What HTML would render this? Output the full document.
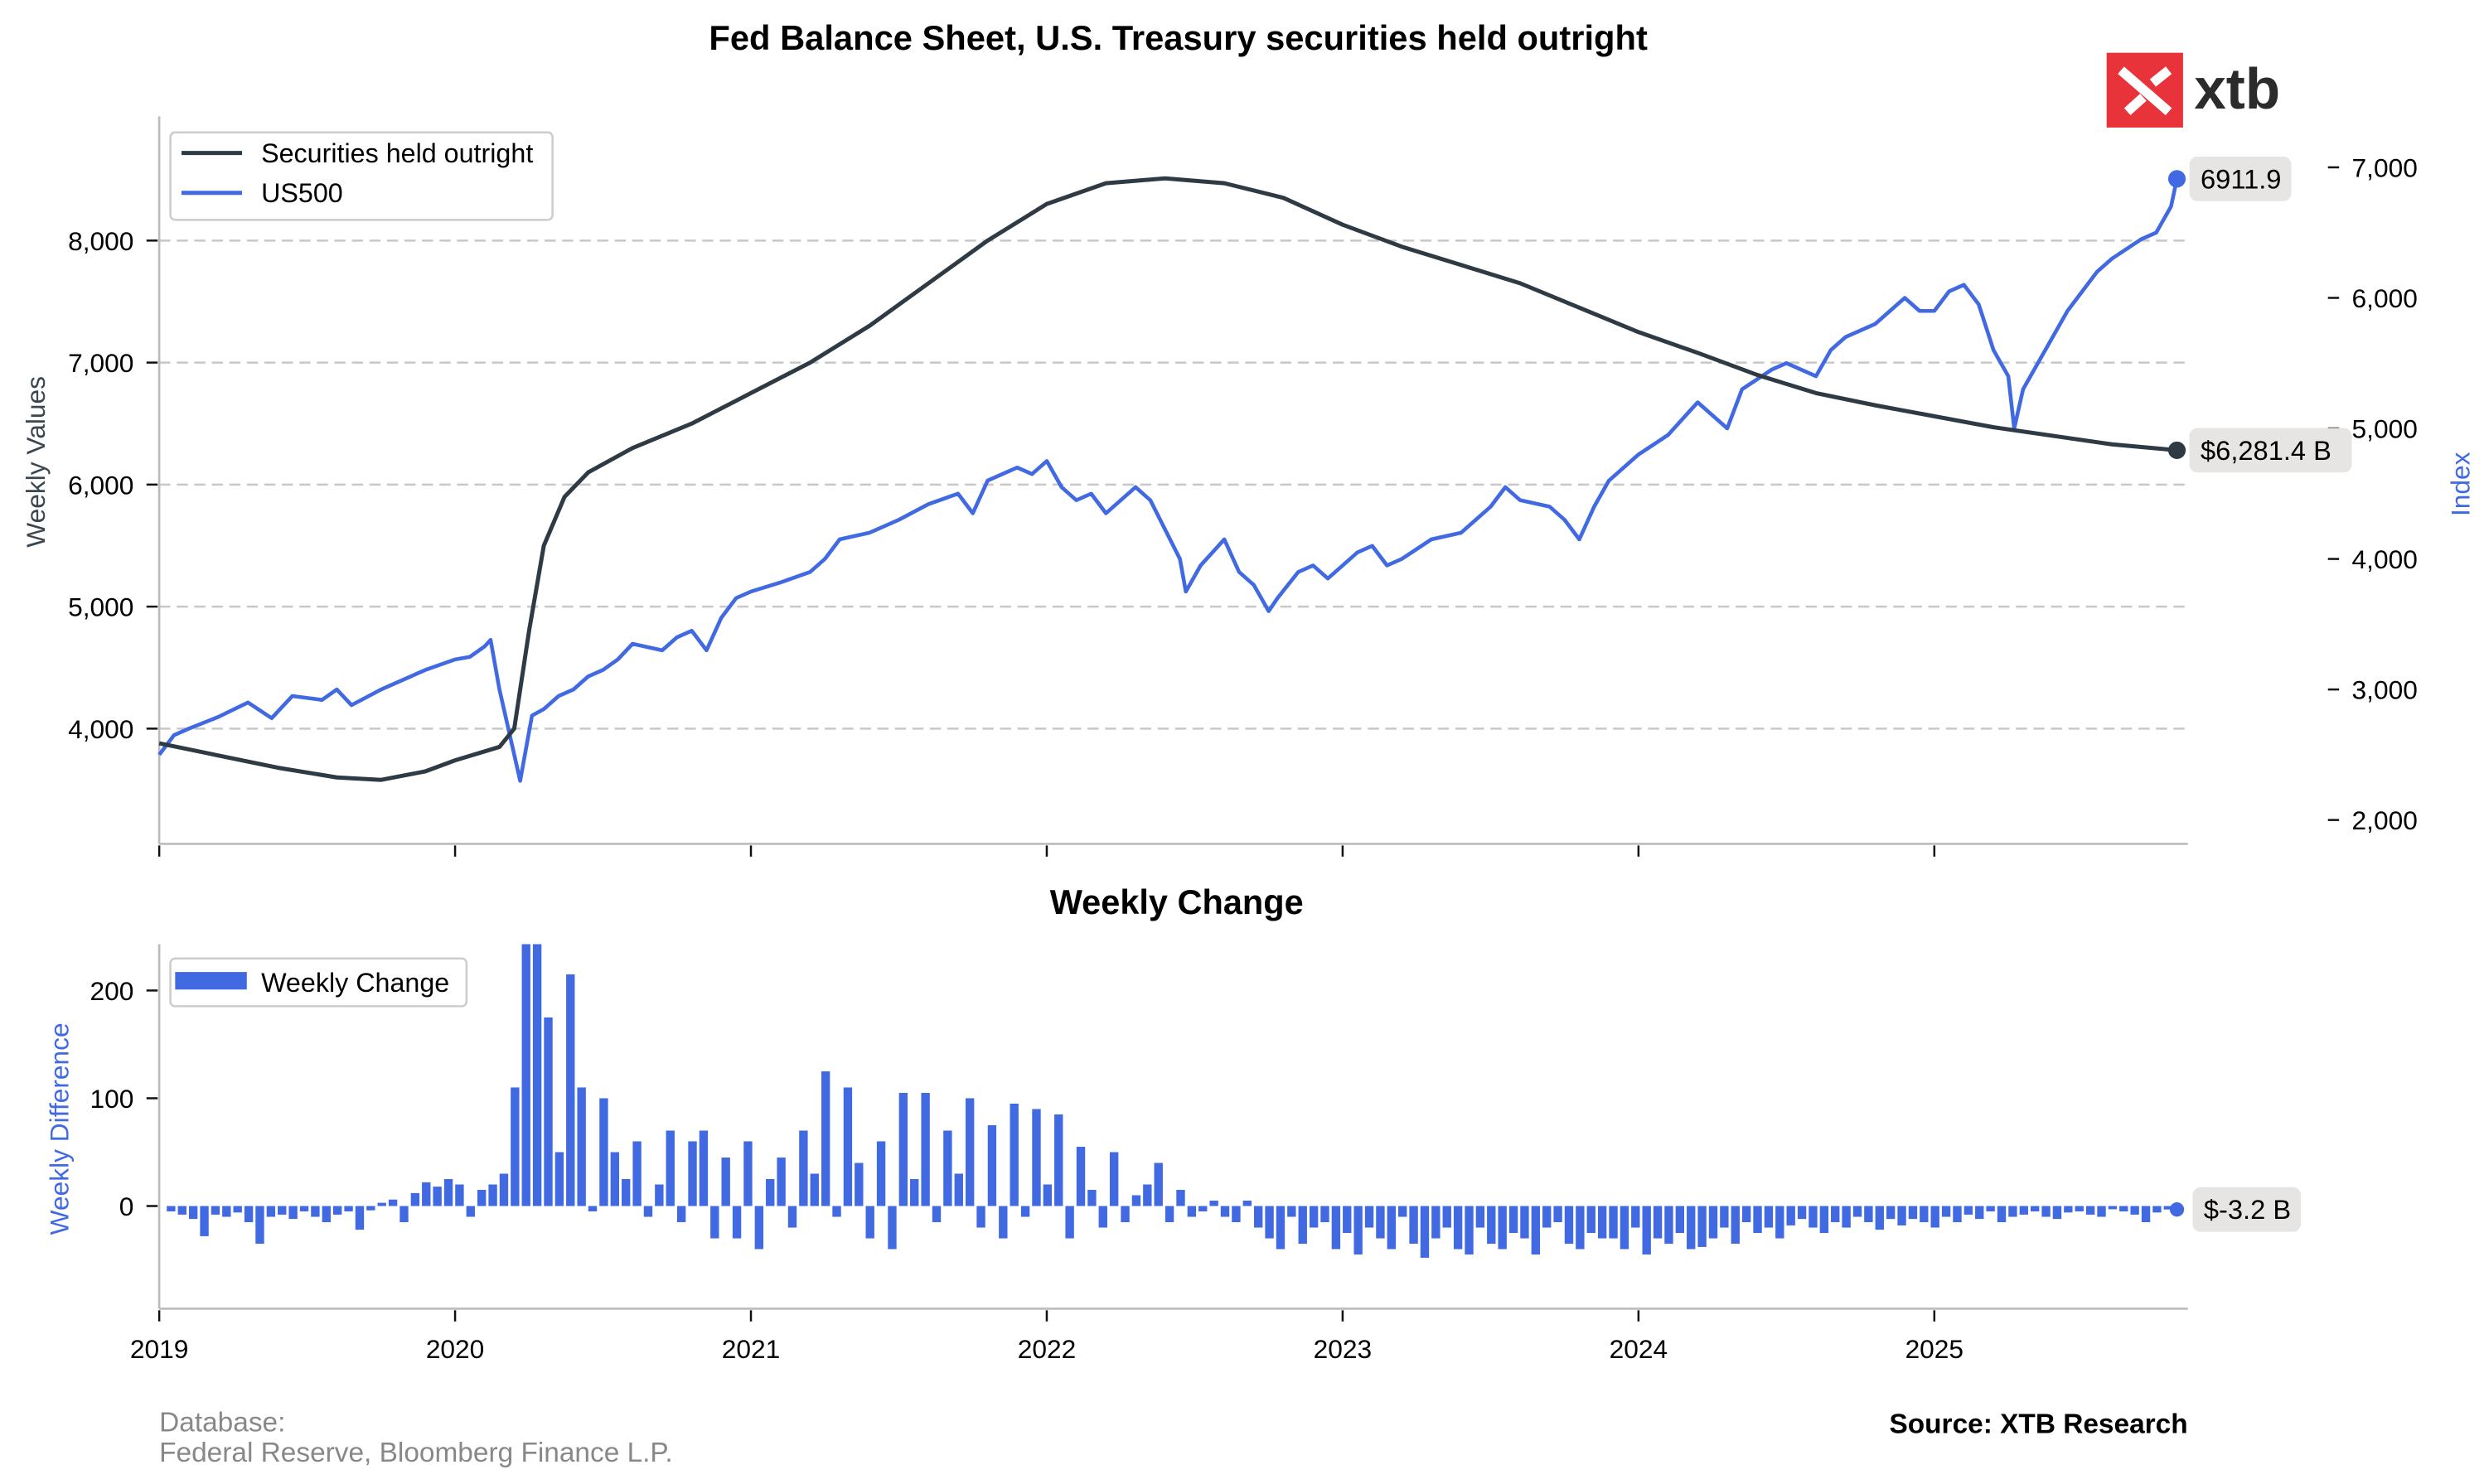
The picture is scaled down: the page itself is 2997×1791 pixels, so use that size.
<!DOCTYPE html>
<html><head><meta charset="utf-8"><style>
html,body{margin:0;padding:0;background:#fff;}
svg{display:block;font-family:"Liberation Sans",Arial,sans-serif;}
</style></head><body>
<svg id="chart" width="2997" height="1791" viewBox="0 0 1560 932" xmlns="http://www.w3.org/2000/svg">
<defs><clipPath id="botclip"><rect x="100" y="593" width="1280" height="229"/></clipPath></defs>
<text x="740" y="31" text-anchor="middle" font-size="21.7" font-weight="bold">Fed Balance Sheet, U.S. Treasury securities held outright</text>
<g>
<rect x="1323" y="33" width="48" height="47" fill="#e8333a"/>
<path d="M1332 44 L1362 70 M1336 70 L1346 61 M1352 52 L1362 44" stroke="#fff" stroke-width="6" fill="none"/>
<text x="1378" y="68" font-size="36" font-weight="bold" fill="#2b2b2b">xtb</text>
</g>
<g id="topG"></g>
<g id="bot"></g>
<text x="739" y="574" text-anchor="middle" font-size="21.6" font-weight="bold">Weekly Change</text>
<text transform="translate(28,290) rotate(-90)" text-anchor="middle" font-size="16.5" fill="#3a4650">Weekly Values</text>
<text transform="translate(1551,304) rotate(-90)" text-anchor="middle" font-size="16.5" fill="#4169e1">Index</text>
<text transform="translate(43,709) rotate(-90)" text-anchor="middle" font-size="16.5" fill="#4169e1">Weekly Difference</text>
<text x="100" y="899" font-size="17.4" fill="#888">Database:</text>
<text x="100" y="918" font-size="17.4" fill="#888">Federal Reserve, Bloomberg Finance L.P.</text>
<text x="1374" y="900" text-anchor="end" font-size="17.4" font-weight="bold">Source: XTB Research</text>
</svg>
<script>
const secYears=[2019.0,2019.2,2019.4,2019.6,2019.75,2019.9,2020.0,2020.15,2020.2,2020.25,2020.3,2020.37,2020.45,2020.6,2020.8,2021.0,2021.2,2021.4,2021.6,2021.8,2022.0,2022.2,2022.4,2022.6,2022.8,2023.0,2023.2,2023.4,2023.6,2023.8,2024.0,2024.2,2024.4,2024.6,2024.8,2025.0,2025.2,2025.4,2025.6,2025.82];
const secValues=[3880,3780,3680,3600,3580,3650,3740,3850,4000,4800,5500,5900,6100,6300,6500,6750,7000,7300,7650,8000,8300,8470,8510,8470,8350,8130,7950,7800,7650,7450,7250,7080,6900,6750,6650,6560,6470,6400,6330,6281.4];
const spxYears=[2019.0,2019.05,2019.1,2019.2,2019.3,2019.38,2019.45,2019.55,2019.6,2019.65,2019.75,2019.85,2019.9,2020.0,2020.05,2020.1,2020.12,2020.15,2020.22,2020.26,2020.3,2020.35,2020.4,2020.45,2020.5,2020.55,2020.6,2020.7,2020.75,2020.8,2020.85,2020.9,2020.95,2021.0,2021.1,2021.2,2021.25,2021.3,2021.4,2021.5,2021.6,2021.7,2021.75,2021.8,2021.9,2021.95,2022.0,2022.05,2022.1,2022.15,2022.2,2022.3,2022.35,2022.45,2022.47,2022.52,2022.6,2022.65,2022.7,2022.75,2022.78,2022.85,2022.9,2022.95,2023.05,2023.1,2023.15,2023.2,2023.3,2023.4,2023.5,2023.55,2023.6,2023.7,2023.75,2023.8,2023.85,2023.9,2024.0,2024.1,2024.2,2024.25,2024.3,2024.35,2024.45,2024.5,2024.55,2024.6,2024.65,2024.7,2024.8,2024.9,2024.95,2025.0,2025.05,2025.1,2025.15,2025.2,2025.25,2025.27,2025.3,2025.35,2025.4,2025.45,2025.55,2025.6,2025.7,2025.75,2025.8,2025.82];
const spxValues=[2500,2650,2700,2790,2900,2780,2950,2920,3000,2880,3000,3100,3150,3230,3250,3330,3380,3000,2300,2800,2850,2950,3000,3100,3150,3230,3350,3300,3400,3450,3300,3550,3700,3750,3820,3900,4000,4150,4200,4300,4420,4500,4350,4600,4700,4650,4750,4550,4450,4500,4350,4550,4450,4000,3750,3950,4150,3900,3800,3600,3700,3900,3950,3850,4050,4100,3950,4000,4150,4200,4400,4550,4450,4400,4300,4150,4400,4600,4800,4950,5200,5100,5000,5300,5450,5500,5450,5400,5600,5700,5800,6000,5900,5900,6050,6100,5950,5600,5400,5000,5300,5500,5700,5900,6200,6300,6450,6500,6700,6911.9];
const leftTicks=[4000,5000,6000,7000,8000];
const rightTicks=[2000,3000,4000,5000,6000,7000];
const yearTicks=[2019,2020,2021,2022,2023,2024,2025];
const barTicks=[0,100,200];
const weeklyChange=[-5,-8,-12,-28,-8,-10,-6,-15,-35,-10,-8,-12,-5,-10,-15,-8,-5,-22,-4,3,6,-15,12,22,18,25,
20,-10,15,20,30,110,300,290,175,50,215,110,-5,100,50,25,60,-10,20,70,-15,60,70,-30,45,-30,
60,-40,25,45,-20,70,30,125,-10,110,40,-30,60,-40,105,25,105,-15,70,30,100,-20,75,-30,95,-10,
90,20,85,-30,55,15,-20,50,-15,10,20,40,-15,15,-10,-5,5,-10,-15,5,-20,-30,-40,-10,-35,-20,
-15,-40,-25,-45,-20,-30,-40,-10,-35,-48,-30,-20,-40,-45,-20,-35,-40,-25,-30,-45,-20,-15,-35,-40,-25,-30,
-30,-40,-20,-45,-30,-35,-25,-40,-38,-30,-20,-35,-15,-25,-20,-30,-18,-12,-20,-25,-15,-20,-10,-15,-22,-12,
-18,-12,-15,-20,-10,-15,-8,-12,-5,-15,-10,-8,-5,-10,-12,-6,-5,-8,-10,-3,-5,-8,-15,-6,-3.2];
const NS="http://www.w3.org/2000/svg";
const XR=1374;
const xS=y=>100+(y-2019)*185.8;
const yL=v=>457.6-(v-4000)*0.07665;
const yR=v=>105+(7000-v)*0.082;
const yB=v=>757.5-v*0.677;
function mk(p,t,a){const e=document.createElementNS(NS,t);for(const k in a)e.setAttribute(k,a[k]);p.appendChild(e);return e;}
const topG=document.getElementById('topG'),bot=document.getElementById('bot');
leftTicks.forEach(v=>{
 const g=mk(topG,'line',{x1:100,x2:XR,y1:yL(v),y2:yL(v),stroke:'#c8c8c8','stroke-dasharray':'7,4','stroke-width':1.3});
 
 
 mk(topG,'line',{x1:92,x2:99,y1:yL(v),y2:yL(v),stroke:'#111','stroke-width':1.3});
 const t=mk(topG,'text',{x:84,y:yL(v)+6,'text-anchor':'end','font-size':16.5});
 t.textContent=v.toLocaleString('en-US');
 
 
});
rightTicks.forEach(v=>{
 mk(topG,'line',{x1:1462,x2:1469,y1:yR(v),y2:yR(v),stroke:'#111','stroke-width':1.3});
 const t=mk(topG,'text',{x:1477,y:yR(v)+6,'text-anchor':'start','font-size':16.5});
 t.textContent=v.toLocaleString('en-US');
 
 
});
mk(topG,'line',{x1:100,x2:100,y1:73,y2:530,stroke:'#bbb','stroke-width':1.4});
mk(topG,'line',{x1:100,x2:XR,y1:530,y2:530,stroke:'#bbb','stroke-width':1.4});
yearTicks.forEach(y=>{mk(topG,'line',{x1:xS(y),x2:xS(y),y1:531,y2:538,stroke:'#111','stroke-width':1.3});});
const spx=mk(topG,'polyline',{points:spxYears.map((y,i)=>xS(y)+','+yR(spxValues[i])).join(' '),fill:'none',stroke:'#4169e1','stroke-width':2.4,'stroke-linejoin':'round'});


const sec=mk(topG,'polyline',{points:secYears.map((y,i)=>xS(y)+','+yL(secValues[i])).join(' '),fill:'none',stroke:'#2e3b45','stroke-width':2.6,'stroke-linejoin':'round'});


mk(topG,'circle',{cx:xS(spxYears[spxYears.length-1]),cy:yR(spxValues[spxValues.length-1]),r:5.5,fill:'#4169e1'});
mk(topG,'circle',{cx:xS(secYears[secYears.length-1]),cy:yL(secValues[secValues.length-1]),r:5.5,fill:'#2e3b45'});
function badge(p,x,y,w,txt,name){
 const g=mk(p,'g',{});
 
 
 mk(g,'rect',{x:x,y:y-14,width:w,height:28,rx:5,fill:'#e6e5e3'});
 const t=mk(g,'text',{x:x+7,y:y+6,'font-size':17});t.textContent=txt;
}
badge(topG,1375,yR(spxValues[spxValues.length-1]),64,spxValues[spxValues.length-1].toFixed(1),'us500-last-value');
badge(topG,1375,yL(secValues[secValues.length-1]),102,'$'+secValues[secValues.length-1].toLocaleString('en-US',{minimumFractionDigits:1})+' B','securities-last-value');
const lg=mk(topG,'g',{});


mk(lg,'rect',{x:107,y:83,width:240,height:55,rx:3,fill:'#fff',stroke:'#ccc','stroke-width':1.3});
mk(lg,'line',{x1:114,x2:152,y1:96,y2:96,stroke:'#2e3b45','stroke-width':2.6});
mk(lg,'line',{x1:114,x2:152,y1:121,y2:121,stroke:'#4169e1','stroke-width':2.6});
mk(lg,'text',{x:164,y:102,'font-size':16.8}).textContent='Securities held outright';
mk(lg,'text',{x:164,y:127,'font-size':16.8}).textContent='US500';
barTicks.forEach(v=>{
 mk(bot,'line',{x1:92,x2:99,y1:yB(v),y2:yB(v),stroke:'#111','stroke-width':1.3});
 const t=mk(bot,'text',{x:84,y:yB(v)+6,'text-anchor':'end','font-size':16.5});t.textContent=v;
 
 
});
const n=weeklyChange.length,x0=xS(2019.04),x1=xS(2025.79),step=(x1-x0)/(n-1);
const bg=mk(bot,'g',{'clip-path':'url(#botclip)'});
weeklyChange.forEach((v,i)=>{
 const x=x0+i*step;
 const r=mk(bg,'rect',{x:x-2.7,y:Math.min(yB(v),yB(0)),width:5.4,height:Math.abs(yB(v)-yB(0)),fill:'#4169e1'});
 
 
});
mk(bot,'circle',{cx:xS(2025.82),cy:yB(weeklyChange[n-1]),r:4.5,fill:'#4169e1'});
badge(bot,1377,yB(weeklyChange[n-1]),68,'$'+weeklyChange[n-1].toFixed(1)+' B','weekly-change-last-value');
mk(bot,'line',{x1:100,x2:100,y1:593,y2:822,stroke:'#bbb','stroke-width':1.4});
mk(bot,'line',{x1:100,x2:XR,y1:822,y2:822,stroke:'#bbb','stroke-width':1.4});
yearTicks.forEach(y=>{
 mk(bot,'line',{x1:xS(y),x2:xS(y),y1:823,y2:830,stroke:'#111','stroke-width':1.3});
 const t=mk(bot,'text',{x:xS(y),y:853,'text-anchor':'middle','font-size':16.5});t.textContent=y;
 
 
});
const bl=mk(bot,'g',{});


mk(bl,'rect',{x:107,y:602,width:186,height:30,rx:3,fill:'#fff',stroke:'#ccc','stroke-width':1.3});
mk(bl,'rect',{x:110,y:610.5,width:45,height:11,fill:'#4169e1'});
mk(bl,'text',{x:164,y:623,'font-size':16.8}).textContent='Weekly Change';
</script>
</body></html>
